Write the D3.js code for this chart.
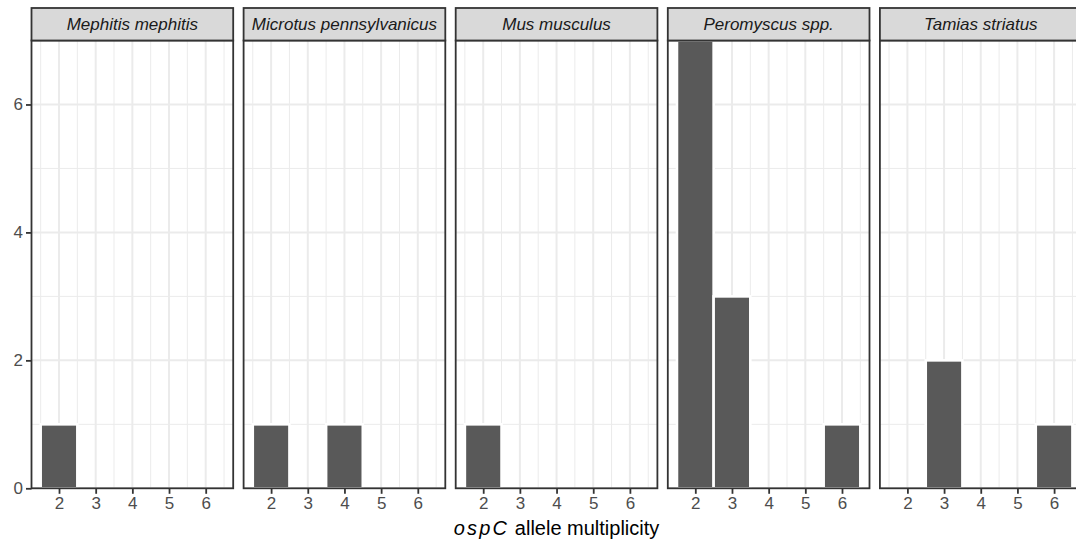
<!DOCTYPE html>
<html>
<head>
<meta charset="utf-8">
<script src="https://cdn.jsdelivr.net/npm/d3@7"></script>
<style>
  html, body { margin: 0; padding: 0; background: #ffffff; }
  svg { display: block; font-family: "Liberation Sans", Arial, Helvetica, sans-serif; }
  .axis text { font-size: 17px; fill: #4D4D4D; font-family: "Liberation Sans", Arial, sans-serif; }
</style>
</head>
<body>
<svg id="chart" width="1076" height="542"></svg>
<script>
// Host species shown in each facet
const species = [
  "Mephitis mephitis",
  "Microtus pennsylvanicus",
  "Mus musculus",
  "Peromyscus spp.",
  "Tamias striatus"
];
// Allele multiplicity bins (x axis)
const multiplicity = [2, 3, 4, 5, 6];
// Number of samples per multiplicity bin, one array per species
const countsMephitis   = [1, 0, 0, 0, 0];
const countsMicrotus   = [1, 0, 1, 0, 0];
const countsMus        = [1, 0, 0, 0, 0];
const countsPeromyscus = [7, 3, 0, 0, 1];
const countsTamias     = [0, 2, 0, 0, 1];
const seriesCounts = [countsMephitis, countsMicrotus, countsMus, countsPeromyscus, countsTamias];
// Axis ticks
const xTicks = [2, 3, 4, 5, 6];
const yTicks = [0, 2, 4, 6];
const yMinor = [1, 3, 5, 7];
const xMinor = [1.5, 2.5, 3.5, 4.5, 5.5, 6.5];

const svg = d3.select("#chart");

// Facet layout
const panelLeft = 31.5, panelStep = 212.1, panelW = 201.7;
const panelTop = 40.5, panelBottom = 488.3;
const stripTop = 8;

const x = d3.scaleLinear().domain([1.25, 6.75]).range([0, panelW]);
const y = d3.scaleLinear().domain([0, 7]).range([panelBottom, panelTop]);

const defs = svg.append("defs");

function styleAxis(sel) {
  sel.attr("class", "axis")
     .attr("font-size", 17)
     .attr("font-family", "Liberation Sans, Arial, sans-serif");
  sel.select(".domain").remove();
  sel.selectAll(".tick line").attr("stroke", "#333333").attr("stroke-width", 1.8);
  sel.selectAll(".tick text").attr("fill", "#4D4D4D").attr("font-size", 17);
}

species.forEach((name, i) => {
  const px = panelLeft + i * panelStep;
  const g = svg.append("g").attr("transform", `translate(${px},0)`);

  defs.append("clipPath").attr("id", "clip" + i)
    .append("rect").attr("x", 0).attr("y", panelTop).attr("width", panelW).attr("height", panelBottom - panelTop);

  // panel background
  g.append("rect").attr("x", 0).attr("y", panelTop).attr("width", panelW).attr("height", panelBottom - panelTop)
    .attr("fill", "#ffffff");

  const grid = g.append("g").attr("clip-path", `url(#clip${i})`);
  // minor grid
  grid.selectAll("line.ymin").data(yMinor).join("line").attr("class", "ymin")
    .attr("x1", 0).attr("x2", panelW).attr("y1", d => y(d)).attr("y2", d => y(d))
    .attr("stroke", "#EBEBEB").attr("stroke-width", 1);
  grid.selectAll("line.xmin").data(xMinor).join("line").attr("class", "xmin")
    .attr("x1", d => x(d)).attr("x2", d => x(d)).attr("y1", panelTop).attr("y2", panelBottom)
    .attr("stroke", "#EBEBEB").attr("stroke-width", 1);
  // major grid
  grid.selectAll("line.ymaj").data(yTicks).join("line").attr("class", "ymaj")
    .attr("x1", 0).attr("x2", panelW).attr("y1", d => y(d)).attr("y2", d => y(d))
    .attr("stroke", "#EBEBEB").attr("stroke-width", 2);
  grid.selectAll("line.xmaj").data(xTicks).join("line").attr("class", "xmaj")
    .attr("x1", d => x(d)).attr("x2", d => x(d)).attr("y1", panelTop).attr("y2", panelBottom)
    .attr("stroke", "#EBEBEB").attr("stroke-width", 2);

  // histogram bars (binwidth 1, white outline)
  const bins = multiplicity.map((m, k) => ({ m, n: seriesCounts[i][k] })).filter(d => d.n > 0);
  grid.selectAll("rect.bar").data(bins).join("rect").attr("class", "bar")
    .attr("x", d => x(d.m - 0.5)).attr("width", d => x(d.m + 0.5) - x(d.m - 0.5))
    .attr("y", d => y(d.n)).attr("height", d => y(0) - y(d.n))
    .attr("fill", "#595959").attr("stroke", "#ffffff").attr("stroke-width", 2.6);

  // panel border
  g.append("rect").attr("x", 0).attr("y", panelTop).attr("width", panelW).attr("height", panelBottom - panelTop)
    .attr("fill", "none").attr("stroke", "#333333").attr("stroke-width", 1.8);

  // strip
  g.append("rect").attr("x", 0).attr("y", stripTop).attr("width", panelW).attr("height", panelTop - stripTop)
    .attr("fill", "#D9D9D9").attr("stroke", "#333333").attr("stroke-width", 1.8);
  g.append("text").attr("x", panelW / 2).attr("y", (stripTop + panelTop) / 2 + 0.5)
    .attr("text-anchor", "middle").attr("dominant-baseline", "central")
    .style("font-size", "17px").attr("font-style", "italic").attr("fill", "#1A1A1A")
    .text(name);

  // x axis
  const xAxis = d3.axisBottom(x).tickValues(xTicks).tickSize(5.5).tickPadding(3).tickFormat(d3.format("d"));
  g.append("g").attr("transform", `translate(0,${panelBottom})`).call(xAxis).call(styleAxis);

  if (i === 0) {
    const yAxis = d3.axisLeft(y).tickValues(yTicks).tickSize(5.5).tickPadding(3).tickFormat(d3.format("d"));
    g.append("g").call(yAxis).call(styleAxis);
  }
});

// x axis title
const plotCenter = panelLeft + (4 * panelStep + panelW) / 2;
const title = svg.append("text").attr("x", plotCenter).attr("y", 535)
  .attr("text-anchor", "middle").style("font-size", "20px").attr("fill", "#000000");
title.append("tspan").attr("font-style", "italic").attr("letter-spacing", 2.2).text("ospC");
title.append("tspan").text(" allele multiplicity");
</script>
</body>
</html>
